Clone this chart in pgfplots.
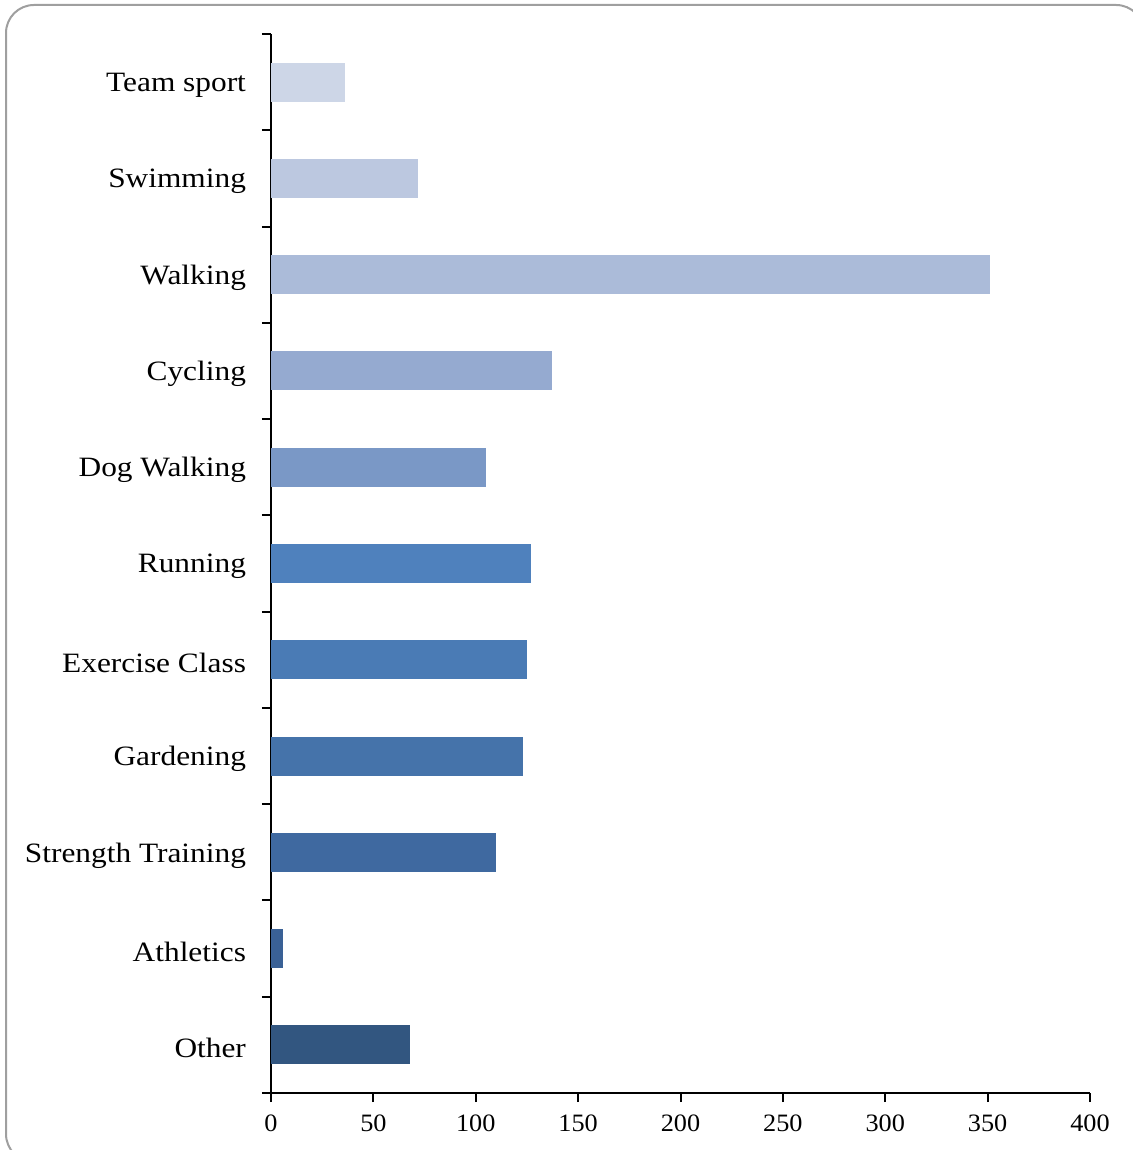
\documentclass[border=0pt]{standalone}
\usepackage{fontspec}
\setmainfont{Liberation Serif}
\newfontfamily\labfont[FakeStretch=1.12]{Liberation Serif}
\newfontfamily\numfont[FakeStretch=1.05]{Liberation Serif}
\usepackage{pgfplots}
\pgfplotsset{compat=1.18}
\definecolor{c0}{HTML}{CDD6E7}
\definecolor{c1}{HTML}{BCC8E0}
\definecolor{c2}{HTML}{ABBBD9}
\definecolor{c3}{HTML}{95AAD0}
\definecolor{c4}{HTML}{7A98C6}
\definecolor{c5}{HTML}{4F81BD}
\definecolor{c6}{HTML}{4A7BB5}
\definecolor{c7}{HTML}{4573AA}
\definecolor{c8}{HTML}{3F69A0}
\definecolor{c9}{HTML}{3A6196}
\definecolor{c10}{HTML}{325680}
\begin{document}
\begin{tikzpicture}
\useasboundingbox (0,0) rectangle (566.5pt,575pt);
\begin{scope}
\clip (0,0) rectangle (566.5pt,575pt);
\draw[gray!75!white, line width=1pt, rounded corners=14pt] (3pt,-6pt) rectangle (572pt,572.5pt);
\end{scope}
\begin{axis}[
  at={(135.5pt,28.5pt)}, anchor=south west,
  scale only axis, width=409.5pt, height=529.5pt,
  xmin=0, xmax=400, ymin=-0.5, ymax=10.5,
  y dir=reverse,
  axis x line*=bottom, axis y line*=left,
  axis line style={line width=1pt, -},
  xbar, bar width=19.5pt, bar shift=0pt,
  xtick={0,50,...,400},
  ytick={-0.5,0.5,...,10.5},
  yticklabels={},
  extra y ticks={0,...,10},
  extra y tick labels={Team sport,Swimming,Walking,Cycling,Dog Walking,Running,Exercise Class,Gardening,Strength Training,Athletics,Other},
  extra y tick style={major tick style={draw=none}},
  major tick length=4.5pt,
  tick align=outside,
  tick style={line width=1pt, black},
  x tick label style={font=\numfont\fontsize{12.5}{14}\selectfont, yshift=-3pt},
  y tick label style={font=\labfont\fontsize{14}{16}\selectfont, xshift=-4.5pt, yshift=-1.5pt},
  /pgf/number format/assume math mode=true,
  clip=false,
]
\addplot[draw=none, fill=c0] coordinates {(36,0)};
\addplot[draw=none, fill=c1] coordinates {(72,1)};
\addplot[draw=none, fill=c2] coordinates {(351,2)};
\addplot[draw=none, fill=c3] coordinates {(137,3)};
\addplot[draw=none, fill=c4] coordinates {(105,4)};
\addplot[draw=none, fill=c5] coordinates {(127,5)};
\addplot[draw=none, fill=c6] coordinates {(125,6)};
\addplot[draw=none, fill=c7] coordinates {(123,7)};
\addplot[draw=none, fill=c8] coordinates {(110,8)};
\addplot[draw=none, fill=c9] coordinates {(6,9)};
\addplot[draw=none, fill=c10] coordinates {(68,10)};
\end{axis}
\end{tikzpicture}
\end{document}
